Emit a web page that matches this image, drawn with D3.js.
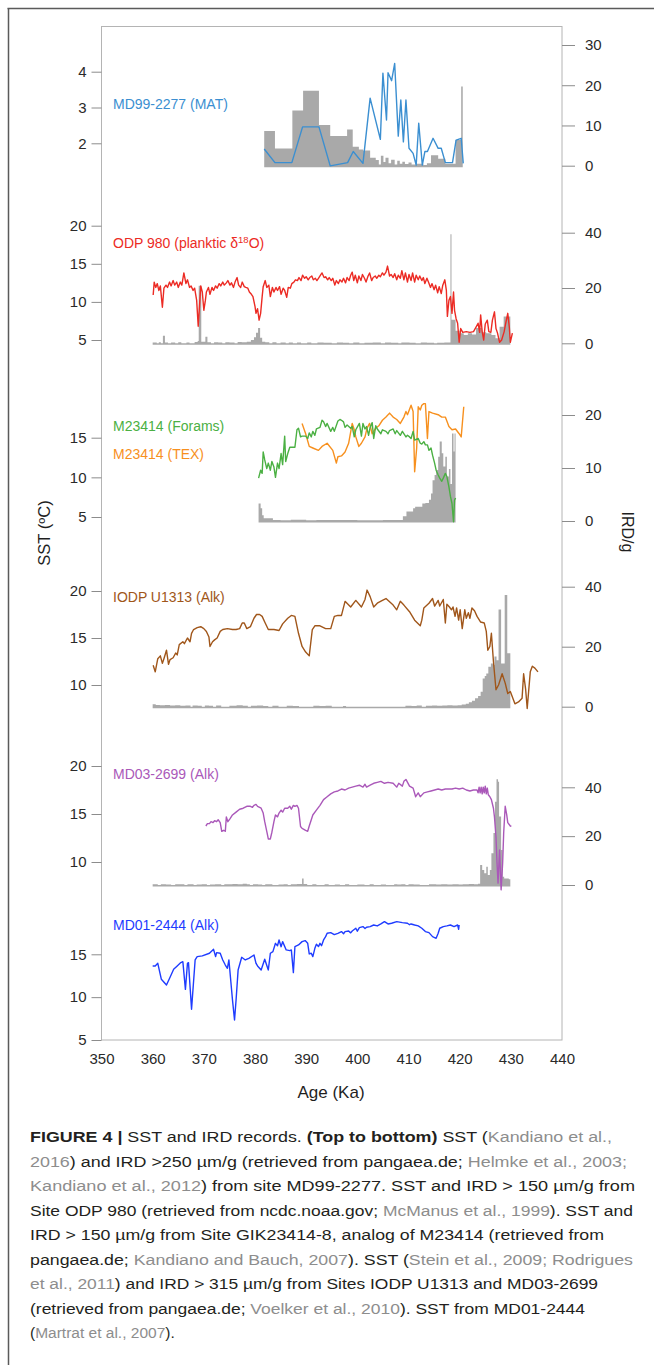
<!DOCTYPE html>
<html><head><meta charset="utf-8">
<script src="https://cdn.jsdelivr.net/npm/d3@7"></script>
<style>
body{margin:0;background:#fff}
svg{display:block}
text{font-family:"Liberation Sans",Arial,Helvetica,sans-serif}
</style>
</head><body>
<svg id="c" width="654" height="1365"></svg>
<script>
// ---------------- DATA ----------------
const xTicks = [350,360,370,380,390,400,410,420,430,440];

// MD99-2277 (MAT) SST and IRD >250
const md99Sst = [[381.8,1.84],[383.9,1.46],[387.2,1.46],[389.3,2.46],[392.5,2.46],[394.7,1.37],[398.1,1.46],[399.2,1.77],[401.1,1.44],[402.5,3.26],[404.5,2.11],[405.0,3.96],[405.7,2.65],[406.0,3.97],[406.7,3.75],[407.3,4.23],[408.0,2.20],[408.5,3.21],[409.0,2.04],[409.5,3.21],[410.1,1.86],[410.9,1.72],[411.5,1.39],[412.0,2.56],[412.7,1.39],[413.2,1.77],[413.7,1.77],[414.8,2.14],[415.8,1.86],[416.4,1.86],[417.2,1.46],[418.6,1.46],[419.3,2.09],[420.3,2.14],[420.7,1.44]];
const md99Ird = [[381.8,8.6],[383.9,4.3],[387.3,13.7],[389.4,18.6],[392.5,10.1],[394.7,7.4],[398.0,9.0],[399.1,4.7],[400.3,4.0],[401.1,3.8],[402.5,2.0],[403.6,1.4],[404.2,0.3],[404.6,2.5],[405.1,0.9],[405.5,2.0],[406.1,0.6],[406.6,1.5],[407.3,0.3],[407.8,1.2],[408.3,0.5],[408.8,1.0],[409.3,0.4],[410.0,0.8],[410.6,0.3],[411.6,0.5],[412.9,0.2],[413.6,0.6],[414.4,2.6],[415.8,1.7],[417.2,0.5],[419.2,6.4],[420.3,19.7],[420.6,0]];

// ODP 980 SST and IRD >150
const odp980Sst = [[360.1,10.9],[360.3,12.6],[360.6,11.9],[360.9,12.4],[361.2,11.5],[361.5,12.1],[361.9,9.3],[362.2,11.8],[362.6,12.2],[362.9,11.9],[363.3,12.6],[363.6,12.1],[364.0,12.8],[364.3,12.2],[364.7,12.6],[365.0,11.9],[365.4,12.6],[365.7,12.2],[366.1,13.8],[366.5,12.4],[366.8,12.9],[367.2,11.9],[367.5,12.1],[367.9,11.5],[368.2,11.8],[368.6,10.2],[368.9,6.8],[369.1,8.9],[369.4,12.1],[369.7,11.3],[370.0,8.9],[370.3,10.2],[370.5,11.3],[370.9,11.9],[371.2,11.0],[371.6,11.9],[371.9,11.5],[372.3,12.1],[372.6,11.8],[373.0,12.4],[373.3,12.1],[373.7,12.6],[374.0,12.2],[374.4,12.5],[374.7,12.8],[375.1,12.2],[375.4,12.5],[375.8,11.9],[376.1,12.6],[376.5,13.2],[376.8,12.2],[377.2,11.9],[377.5,12.6],[377.9,12.0],[378.2,11.9],[378.6,11.8],[378.9,11.3],[379.3,11.0],[379.6,10.7],[380.0,9.4],[380.2,8.5],[380.5,9.1],[380.8,7.6],[381.1,8.5],[381.4,10.7],[381.6,12.0],[382.0,12.8],[382.3,11.9],[382.7,12.2],[383.0,10.7],[383.4,11.9],[383.7,11.3],[384.1,11.9],[384.4,11.5],[384.8,12.0],[385.1,11.0],[385.5,11.8],[385.8,11.5],[386.2,10.6],[386.5,11.9],[386.9,11.8],[387.2,12.4],[387.6,12.6],[387.9,12.9],[388.3,12.8],[388.6,13.2],[389.0,12.8],[389.3,13.5],[389.7,13.1],[390.0,13.3],[390.4,12.9],[390.7,13.2],[391.1,13.4],[391.4,12.9],[391.8,13.1],[392.1,12.8],[392.4,13.1],[392.8,13.5],[393.1,13.8],[393.5,13.2],[393.8,13.3],[394.2,12.9],[394.5,13.2],[394.9,12.8],[395.2,13.1],[395.6,12.2],[395.9,12.8],[396.3,12.4],[396.6,12.9],[397.0,12.6],[397.3,13.1],[397.7,12.5],[398.0,13.2],[398.4,12.8],[398.7,13.5],[399.0,13.9],[399.3,12.8],[399.6,13.5],[400.0,12.5],[400.3,13.4],[400.7,12.8],[401.0,13.6],[401.4,13.1],[401.7,12.6],[402.1,13.4],[402.4,13.8],[402.8,12.8],[403.1,13.2],[403.5,13.4],[403.8,13.1],[404.2,13.5],[404.5,13.3],[404.9,13.8],[405.2,13.5],[405.6,13.9],[405.9,14.7],[406.3,13.4],[406.6,13.6],[407.0,13.2],[407.3,13.7],[407.7,12.9],[408.0,13.5],[408.4,13.1],[408.7,14.1],[409.1,12.9],[409.4,13.8],[409.8,12.6],[410.1,13.6],[410.5,12.8],[410.8,13.8],[411.2,12.6],[411.5,13.5],[411.9,12.9],[412.2,13.4],[412.6,12.8],[412.9,13.2],[413.2,12.4],[413.6,13.1],[413.9,12.6],[414.3,11.9],[414.6,12.4],[415.0,11.6],[415.3,12.2],[415.7,11.2],[416.0,12.0],[416.4,11.1],[416.7,12.2],[417.1,12.9],[417.4,11.5],[417.6,8.1],[417.9,10.2],[418.2,10.7],[418.5,8.5],[418.8,11.3],[419.0,8.9],[419.3,7.8],[419.6,7.2],[419.9,4.7],[420.2,6.5],[420.6,6.0],[421.3,6.1],[422.0,6.0],[422.7,6.1],[423.2,6.7],[423.6,7.2],[423.9,6.0],[424.1,8.3],[424.4,6.1],[424.7,5.0],[425.0,7.1],[425.4,7.6],[425.7,6.1],[426.1,6.0],[426.4,7.6],[426.8,8.7],[427.1,6.5],[427.4,5.9],[427.8,4.7],[428.2,5.0],[428.7,6.1],[429.0,7.2],[429.4,8.5],[429.7,6.7],[429.9,4.7],[430.3,5.9]];
const odp980Ird = [[360.0,0.3],[360.8,0],[361.2,0.4],[361.6,0],[362.0,2.7],[362.4,0.3],[363.0,0],[363.6,0.3],[364.4,0],[365.0,0.4],[365.6,0],[366.6,0.3],[367.2,0],[368.2,0.5],[368.8,0.8],[369.0,20.8],[369.5,0.6],[370.3,2.4],[370.7,0.4],[371.4,0],[372.0,0.4],[372.8,0.3],[373.6,0],[374.2,0.4],[375.0,0.3],[376.0,0],[376.6,0.5],[377.4,0.4],[378.4,0.6],[379.2,1.2],[379.8,2.2],[380.2,3.8],[380.6,5.5],[381.0,2.0],[381.4,0.6],[382.0,0.4],[382.8,0],[383.4,0.4],[384.2,0],[385.0,0.3],[386.0,0],[386.6,0.3],[387.4,0],[388.2,0.3],[389.0,0],[390.2,0.3],[391.0,0],[392.2,0.3],[393.4,0.2],[395.0,0],[396.0,0.3],[397.2,0.2],[398.4,0],[399.2,0.3],[400.4,0],[401.4,0.2],[403.0,0.3],[404.6,0],[405.4,0.3],[406.6,0.2],[408.0,0],[408.6,0.3],[410.2,0.2],[411.4,0],[412.4,0.3],[413.6,0.2],[415.0,0],[415.6,0.2],[417.0,0.3],[418.2,39.4],[418.4,8.5],[419.2,4.5],[420.0,3.6],[420.8,3.0],[421.6,3.6],[422.4,3.2],[423.2,5.5],[424.4,4.0],[425.2,3.6],[426.2,3.0],[427.0,1.8],[427.8,6.0],[428.6,9.7],[429.9,0]];

// M23414 (Forams, TEX) SST and IRD >150
const m23414Forams = [[380.7,9.9],[381.1,10.9],[381.4,10.5],[381.6,13.2],[381.9,12.2],[382.3,11.1],[382.6,11.8],[383.0,10.9],[383.3,12.0],[383.7,11.3],[384.0,10.0],[384.4,11.8],[384.7,11.1],[385.1,13.0],[385.4,11.6],[385.8,15.2],[386.0,12.0],[386.4,13.0],[386.8,13.8],[387.5,13.8],[387.8,13.8],[388.2,16.0],[388.5,16.2],[388.9,15.1],[389.2,15.2],[389.9,15.2],[390.3,14.9],[390.6,15.6],[391.0,15.1],[391.3,15.8],[391.7,15.3],[392.0,16.1],[392.7,16.3],[393.1,17.2],[393.4,17.0],[393.8,16.4],[394.1,16.8],[394.8,15.8],[395.2,16.3],[395.5,15.8],[396.2,17.1],[396.6,17.3],[396.9,17.2],[397.3,17.0],[397.6,16.3],[398.0,16.6],[398.7,16.2],[399.0,16.4],[399.4,15.1],[399.7,16.0],[400.4,16.8],[400.8,15.2],[401.1,16.8],[401.5,16.1],[401.8,16.4],[402.2,15.3],[402.5,16.3],[402.9,16.9],[403.2,14.9],[403.6,16.5],[403.9,16.1],[404.6,15.5],[404.9,16.0],[405.6,15.8],[406.0,15.5],[406.3,15.9],[407.0,16.1],[407.4,15.5],[407.7,15.9],[408.4,15.3],[408.8,15.8],[409.5,15.1],[409.8,15.3],[410.2,15.1],[410.5,14.9],[410.9,15.8],[411.2,14.7],[411.9,14.9],[412.3,14.3],[412.6,14.2],[413.0,14.5],[413.3,14.1],[413.7,14.1],[414.0,13.4],[414.4,13.7],[414.7,12.8],[415.1,11.8],[415.4,10.9],[415.8,10.3],[416.1,9.9],[416.5,9.5],[416.8,9.9],[417.2,10.5],[417.5,10.1],[417.9,8.8],[418.2,7.6],[418.5,6.7],[418.8,4.4],[419.0,7.1],[419.2,7.4]];
const m23414Tex = [[389.2,16.8],[389.9,15.5],[390.6,13.9],[391.3,13.7],[392.4,13.4],[393.1,13.9],[394.1,14.3],[395.2,13.4],[395.9,11.8],[396.2,12.6],[396.9,12.7],[397.6,13.2],[398.3,14.3],[399.0,16.8],[399.4,16.0],[399.7,15.1],[400.3,13.9],[400.8,14.3],[401.5,15.1],[401.9,16.2],[402.4,16.8],[402.9,15.5],[403.6,16.2],[404.2,16.5],[404.9,17.2],[405.6,17.6],[406.3,18.1],[407.0,17.6],[407.7,17.3],[408.4,16.8],[409.1,17.6],[409.5,18.3],[409.8,17.9],[410.5,19.1],[410.9,18.3],[411.2,10.7],[411.6,13.7],[411.9,18.9],[412.3,18.5],[412.6,19.1],[413.0,19.3],[413.3,19.3],[413.7,14.9],[414.0,18.3],[414.7,18.1],[415.8,17.9],[416.5,17.6],[417.2,17.6],[417.9,16.4],[418.5,16.0],[419.2,16.1],[419.9,15.5],[420.3,15.1],[420.8,18.9]];
const m23414Ird = [[380.7,3.3],[381.1,2.4],[381.4,1.1],[381.7,0.5],[383.5,0.2],[385.0,0.15],[387.0,0.25],[390.0,0.15],[392.0,0.2],[395.0,0.2],[400.0,0.15],[405.0,0.2],[408.9,0.9],[409.6,1.8],[410.9,2.4],[411.3,2.7],[412.7,3.3],[413.3,3.4],[414.0,4.0],[414.4,5.2],[414.7,7.7],[415.1,8.7],[415.4,9.6],[415.8,12.1],[416.1,15.0],[416.5,12.8],[416.8,10.3],[417.2,12.1],[417.5,8.4],[417.9,9.8],[418.2,7.0],[418.5,16.5],[418.8,13.1],[419.0,16.5],[419.2,0]];

// IODP U1313 (Alk) SST and IRD >315
const u1313Sst = [[360.1,12.1],[360.5,11.4],[361.0,12.8],[361.5,13.1],[361.9,12.3],[362.2,12.8],[362.7,13.7],[363.1,12.2],[363.4,12.7],[364.0,12.9],[364.5,13.4],[364.8,13.2],[365.2,14.3],[365.9,14.6],[366.2,14.4],[366.8,15.0],[367.3,14.6],[367.6,15.5],[368.0,15.9],[368.7,16.1],[369.4,16.2],[370.0,16.0],[370.5,15.7],[371.0,15.1],[371.2,14.1],[371.7,14.6],[372.1,14.8],[372.6,15.0],[373.2,15.7],[373.7,15.9],[374.6,16.0],[375.6,15.9],[376.3,15.9],[377.0,16.0],[377.5,16.6],[377.9,16.6],[378.4,16.0],[379.1,16.2],[379.8,17.1],[380.3,17.5],[380.9,17.5],[381.4,17.3],[381.9,16.7],[382.6,15.9],[383.7,15.9],[384.7,15.8],[385.4,16.5],[386.4,17.1],[387.1,17.4],[387.8,17.3],[388.5,15.5],[389.2,14.1],[389.9,13.5],[390.6,13.1],[391.2,15.9],[391.7,16.3],[392.7,16.3],[393.8,16.0],[394.8,16.0],[395.5,17.3],[396.2,17.4],[396.9,17.4],[397.6,18.9],[398.7,18.3],[399.7,19.0],[400.8,18.3],[401.5,19.1],[401.9,20.1],[402.5,19.4],[403.2,18.3],[403.9,18.7],[404.9,19.0],[405.6,19.2],[407.0,18.5],[407.7,18.0],[408.4,18.9],[409.1,18.5],[410.2,17.8],[411.2,16.9],[412.3,16.3],[412.6,16.9],[413.0,18.2],[414.0,18.7],[414.7,19.2],[415.1,18.4],[415.8,19.0],[416.1,18.4],[416.8,19.1],[417.2,16.6],[417.5,18.6],[418.0,18.3],[418.4,18.0],[418.7,18.3],[419.1,17.3],[419.4,18.2],[419.8,16.9],[420.1,18.0],[420.5,16.0],[421.0,18.0],[421.3,17.1],[421.7,17.7],[422.0,17.1],[422.4,18.2],[422.9,17.9],[423.4,17.3],[424.1,16.7],[424.8,16.6],[425.2,15.7],[425.5,13.7],[425.9,14.1],[426.2,15.5],[426.6,12.5],[427.1,9.5],[427.6,10.0],[428.3,11.2],[428.9,10.2],[429.4,9.1],[429.9,9.3],[430.8,8.0],[431.5,8.2],[432.2,8.6],[432.5,11.2],[432.9,9.5],[433.2,7.5],[433.8,11.4],[434.2,12.0],[434.7,11.8],[435.3,11.4]];
const u1313Ird = [[360.0,0.8],[360.6,0.6],[361.4,0.5],[362.4,0.6],[363.4,0.4],[364.4,0.5],[365.4,0.3],[366.4,0.4],[367.4,0],[367.8,0.4],[368.8,0.3],[369.6,0],[370.2,0.4],[371.0,0.3],[371.8,0],[372.4,0.4],[373.4,0],[375.0,0.3],[376.4,0.5],[377.6,0.3],[378.6,0],[379.2,0.3],[380.4,0.4],[381.6,0.2],[382.6,0],[383.4,0.3],[384.6,0],[386.2,0.3],[387.4,0.2],[388.6,0],[391.4,0.3],[392.6,0.2],[393.8,0.3],[395.0,0],[397.2,0.2],[397.8,0],[409.4,0.3],[410.6,0.2],[411.6,0.4],[412.6,0],[413.4,0.3],[414.6,0.4],[415.6,0.3],[416.6,0.4],[417.6,0.5],[418.6,0.4],[419.6,0.5],[420.4,0.7],[421.2,1.0],[421.8,1.5],[422.4,2.0],[423.0,2.8],[423.6,3.6],[424.1,5.0],[424.5,9.4],[424.9,10.2],[425.2,11.1],[425.6,13.3],[426.1,14.4],[426.5,13.9],[426.8,16.7],[427.2,15.5],[427.6,32.4],[428.1,14.4],[428.8,37.2],[429.3,17.8],[429.9,0]];

// MD03-2699 (Alk) SST and IRD >315
const md03Sst = [[370.4,13.75],[370.7,14.0],[371.1,14.0],[371.4,14.2],[371.8,14.1],[372.1,14.3],[372.5,14.2],[372.8,14.4],[373.2,14.1],[373.5,13.2],[373.9,13.3],[374.2,13.2],[374.4,14.7],[374.7,14.2],[375.1,14.5],[375.6,14.9],[376.3,15.2],[377.0,15.5],[377.7,15.6],[378.4,15.8],[379.1,15.8],[379.5,15.7],[379.8,15.9],[380.2,16.0],[380.5,15.8],[381.2,15.6],[381.6,15.1],[381.9,14.2],[382.3,13.2],[382.6,12.4],[383.0,12.4],[383.3,13.1],[383.7,14.2],[384.0,14.9],[384.4,14.7],[384.7,15.1],[385.1,15.4],[385.4,15.2],[385.8,15.6],[386.4,15.6],[386.8,15.8],[387.1,15.5],[387.5,15.9],[387.8,15.8],[388.2,15.9],[388.5,15.6],[388.9,13.7],[389.2,13.5],[389.9,13.3],[390.3,13.2],[390.6,13.75],[391.0,14.4],[391.3,14.9],[392.0,15.4],[392.7,15.9],[393.4,16.5],[394.1,16.8],[394.8,17.1],[395.5,17.3],[396.2,17.4],[396.9,17.6],[397.6,17.5],[398.3,17.7],[399.0,17.8],[399.7,17.9],[400.4,18.0],[401.1,17.8],[401.5,18.1],[401.8,17.8],[402.5,18.0],[403.2,18.2],[403.9,18.3],[404.6,18.4],[405.3,18.2],[406.0,18.3],[407.0,18.2],[407.7,17.8],[408.1,18.2],[408.8,17.9],[409.1,18.4],[409.5,18.6],[410.2,17.9],[410.9,17.7],[411.4,16.8],[411.9,17.2],[412.3,16.8],[413.0,17.2],[413.7,17.3],[414.4,17.4],[415.1,17.5],[415.8,17.6],[416.5,17.5],[417.2,17.6],[417.9,17.6],[418.5,17.6],[419.2,17.7],[419.9,17.6],[420.6,17.7],[421.3,17.5],[422.0,17.4],[422.7,17.5],[423.4,17.5],[423.6,17.2],[423.8,17.8],[424.0,17.2],[424.2,17.8],[424.4,17.1],[424.6,17.8],[424.8,17.2],[425.0,17.9],[425.2,17.1],[425.4,17.7],[425.6,17.0],[425.9,16.8],[426.2,16.5],[426.6,15.6],[426.8,14.7],[427.1,12.6],[427.3,9.9],[427.5,7.8],[427.8,11.25],[428.1,7.1],[428.4,9.9],[428.6,13.0],[428.9,15.8],[429.2,14.9],[429.4,14.1],[429.9,13.75],[430.1,13.7]];
const md03Ird = [[360.0,0.3],[361.0,0],[361.6,0.3],[362.6,0.2],[363.6,0],[364.4,0.3],[365.4,0.3],[366.2,0],[366.8,0.3],[368.0,0],[368.6,0.2],[369.6,0.3],[370.6,0],[371.2,0.2],[372.2,0.3],[373.4,0],[374.0,0.3],[375.6,0.4],[376.6,0.3],[377.6,0.5],[378.4,0.3],[379.0,0],[379.6,0.3],[380.6,0.2],[381.4,0],[382.0,0.3],[383.4,0],[384.6,0.2],[385.6,0.3],[386.4,0],[387.0,0.3],[388.2,0.4],[389.2,2.7],[389.5,0.4],[390.2,0],[391.2,0.3],[392.0,0],[393.6,0.3],[394.4,0],[395.6,0.2],[396.6,0],[397.6,0.3],[398.4,0],[400.0,0.2],[401.4,0],[402.4,0.3],[403.2,0],[404.6,0.2],[405.6,0],[407.2,0.3],[407.8,0.2],[408.6,0.3],[409.4,0],[410.0,0.3],[411.0,0.2],[412.2,0],[414.0,0.3],[415.4,0.2],[416.4,0.3],[417.6,0.2],[418.6,0.3],[419.8,0.2],[420.6,0.3],[421.8,0.4],[422.8,0.3],[423.6,0.5],[424.0,8.2],[424.4,6.1],[424.8,4.8],[425.2,7.5],[425.5,4.1],[425.9,6.1],[426.2,13.0],[426.6,21.3],[426.9,34.1],[427.2,43.3],[427.5,42.3],[427.7,28.0],[428.1,14.3],[428.4,3.4],[428.7,2.7],[429.6,2.4],[429.9,0]];

// MD01-2444 (Alk) SST
const md01Sst = [[360.0,13.64],[360.5,13.64],[361.0,13.95],[361.7,12.08],[362.0,11.89],[362.7,11.42],[363.4,12.32],[364.1,13.25],[364.8,13.64],[365.5,14.03],[365.9,14.14],[366.4,10.91],[366.8,13.95],[367.0,14.03],[367.6,8.58],[368.3,14.34],[368.7,14.73],[369.7,14.81],[371.1,15.12],[371.9,15.58],[372.3,14.73],[372.5,15.19],[373.2,15.12],[373.7,14.34],[374.2,13.75],[374.6,13.37],[374.9,14.34],[375.6,9.67],[376.0,7.33],[376.3,9.67],[376.7,13.17],[377.4,14.65],[378.1,14.34],[378.8,14.53],[379.8,14.92],[380.2,13.95],[380.5,13.64],[381.2,13.17],[381.9,14.42],[382.6,13.17],[383.0,15.12],[383.5,15.31],[384.0,16.28],[384.4,16.0],[384.7,16.67],[385.1,15.89],[385.4,16.48],[386.1,15.51],[386.8,15.43],[387.1,15.51],[387.5,12.86],[387.8,15.89],[388.5,16.09],[389.2,16.48],[389.8,16.60],[390.3,16.28],[390.6,15.04],[391.0,15.12],[391.3,14.73],[391.7,15.70],[392.0,16.17],[392.4,15.9],[392.7,16.28],[393.0,16.0],[393.4,16.67],[393.8,17.06],[394.1,17.45],[394.8,17.53],[395.5,17.3],[396.2,17.45],[396.9,17.65],[397.3,17.4],[397.6,17.65],[398.3,17.72],[398.7,17.5],[399.0,17.72],[399.7,18.04],[400.0,17.7],[400.4,18.11],[401.1,18.23],[401.5,18.0],[401.8,18.16],[402.5,18.23],[403.2,18.42],[403.9,18.31],[404.6,18.54],[405.3,18.81],[406.0,18.54],[406.7,18.62],[407.7,18.81],[408.8,18.70],[409.8,18.62],[410.2,18.45],[410.5,18.54],[411.2,18.42],[411.9,18.31],[412.6,18.04],[413.3,17.65],[414.0,17.53],[414.7,17.06],[415.4,16.87],[415.8,17.45],[416.1,18.04],[416.8,18.23],[417.5,18.31],[418.2,18.42],[418.9,18.23],[419.6,18.42],[419.8,17.92],[419.9,18.42]];

// series labels & caption
const seriesNames = ["MD99-2277 (MAT)","ODP 980 (planktic δ","M23414 (Forams)","M23414 (TEX)","IODP U1313 (Alk)","MD03-2699 (Alk)","MD01-2444 (Alk)"];
const captionLines = [
 [["FIGURE 4 | ","b"],["SST and IRD records. ","n"],["(Top to bottom)","b"],[" SST (","n"],["Kandiano et al.,","g"]],
 [["2016","g"],[") and IRD >250 µm/g (retrieved from pangaea.de; ","n"],["Helmke et al., 2003;","g"]],
 [["Kandiano et al., 2012","g"],[") from site MD99-2277. SST and IRD > 150 µm/g from","n"]],
 [["Site ODP 980 (retrieved from ncdc.noaa.gov; ","n"],["McManus et al., 1999","g"],["). SST and","n"]],
 [["IRD > 150 µm/g from Site GIK23414-8, analog of M23414 (retrieved from","n"]],
 [["pangaea.de; ","n"],["Kandiano and Bauch, 2007","g"],["). SST (","n"],["Stein et al., 2009; Rodrigues","g"]],
 [["et al., 2011","g"],[") and IRD > 315 µm/g from Sites IODP U1313 and MD03-2699","n"]],
 [["(retrieved from pangaea.de; ","n"],["Voelker et al., 2010","g"],["). SST from MD01-2444","n"]],
 [["(","n"],["Martrat et al., 2007","g"],[").","n"]]
];

// ---------------- LAYOUT ----------------
const svg = d3.select("#c");
const X0 = 101.5, X1 = 562;
const x = d3.scaleLinear().domain([350,440]).range([X0,X1]);

const panels = [
 {lines:[{data:md99Sst,color:"#3b8fd1",name:0,ly:104}], ird:md99Ird, lt:[2,3,4], rt:[0,10,20,30], L:[2,4,143.3,71.7], R:[0,30,165.7,45]},
 {lines:[{data:odp980Sst,color:"#ec2b24",name:1,ly:243,sup:true}], ird:odp980Ird, lt:[5,10,15,20], rt:[0,20,40], L:[5,20,340,225.7], R:[0,40,343.3,232.7]},
 {lines:[{data:m23414Tex,color:"#f7901e",name:3,ly:454},{data:m23414Forams,color:"#4bb043",name:2,ly:426}], ird:m23414Ird, lt:[5,10,15], rt:[0,10,20], L:[5,15,517,437.7], R:[0,20,521,415]},
 {lines:[{data:u1313Sst,color:"#a0561a",name:4,ly:597}], ird:u1313Ird, lt:[10,15,20], rt:[0,20,40], L:[10,20,685,591], R:[0,40,706.7,586.7]},
 {lines:[{data:md03Sst,color:"#aa58b9",name:5,ly:774}], ird:md03Ird, lt:[10,15,20], rt:[0,20,40], L:[10,20,862,766], R:[0,40,885,787.3]},
 {lines:[{data:md01Sst,color:"#1f3cff",name:6,ly:925}], ird:null, lt:[5,10,15], rt:null, L:[5,15,1040,954.3], R:null}
];

// outer figure border
svg.append("line").attr("x1",7.5).attr("y1",8.5).attr("x2",654).attr("y2",8.5).attr("stroke","#5a5a5a").attr("stroke-width",1.5);
svg.append("line").attr("x1",8.5).attr("y1",8).attr("x2",8.5).attr("y2",1365).attr("stroke","#5a5a5a").attr("stroke-width",1.5);

// plot frame
svg.append("rect").attr("x",X0).attr("y",26.5).attr("width",X1-X0).attr("height",1040-26.5)
  .attr("fill","none").attr("stroke","#b4b4b4").attr("stroke-width",1);

function styleAxis(g){
  g.select(".domain").remove();
  g.selectAll(".tick line").attr("stroke","#8c8c8c");
  g.selectAll(".tick text").attr("fill","#2a2a2a");
  g.attr("font-size",15).attr("font-family","'Liberation Sans',Arial,sans-serif");
}

panels.forEach(p=>{
  const yL = d3.scaleLinear().domain([p.L[0],p.L[1]]).range([p.L[2],p.L[3]]);
  if(p.ird){
    const yR = d3.scaleLinear().domain([p.R[0],p.R[1]]).range([p.R[2],p.R[3]]);
    const area = d3.area().x(d=>x(d[0])).y0(yR(0)+1.5).y1(d=>yR(d[1])).curve(d3.curveStepAfter);
    svg.append("path").datum(p.ird).attr("d",area).attr("fill","#a9a9a9").attr("stroke","none");
    svg.append("g").attr("transform",`translate(${X1},0)`)
      .call(d3.axisRight(yR).tickValues(p.rt).tickSize(13).tickPadding(10).tickFormat(d3.format("d")))
      .call(styleAxis);
  }
  const line = d3.line().x(d=>x(d[0])).y(d=>yL(d[1]));
  p.lines.forEach(s=>{
    svg.append("path").datum(s.data).attr("d",line).attr("fill","none")
      .attr("stroke",s.color).attr("stroke-width",1.4).attr("stroke-linejoin","round");
    const t = svg.append("text").attr("x",113).attr("y",s.ly+5).attr("font-size",14).attr("fill",s.color);
    t.append("tspan").text(seriesNames[s.name]);
    if(s.sup){
      t.append("tspan").attr("dy",-5).attr("font-size",9.5).text("18");
      t.append("tspan").attr("dy",5).text("O)");
    }
  });
  svg.append("g").attr("transform",`translate(${X0},0)`)
    .call(d3.axisLeft(yL).tickValues(p.lt).tickSize(10).tickPadding(5).tickFormat(d3.format("d")))
    .call(styleAxis);
});

// x axis
svg.append("g").attr("transform","translate(0,1040)")
  .call(d3.axisBottom(x).tickValues(xTicks).tickSize(0).tickPadding(13).tickFormat(d3.format("d")))
  .call(styleAxis);

// axis titles
svg.append("text").attr("transform","translate(50,533) rotate(-90)").attr("text-anchor","middle")
  .attr("font-size",16.5).attr("fill","#1f1f1f").text("SST (ºC)");
svg.append("text").attr("transform","translate(622,532) rotate(90)").attr("text-anchor","middle")
  .attr("font-size",16).attr("fill","#1f1f1f").text("IRD/g");
svg.append("text").attr("x",331).attr("y",1098).attr("text-anchor","middle")
  .attr("font-size",17).attr("fill","#1f1f1f").text("Age (Ka)");

// caption
const capWidths = [582,597,605,603,574,603,568,555,null];
captionLines.forEach((segs,i)=>{
  const t = svg.append("text").attr("x",30).attr("y",1142+i*24.5).attr("font-size",15.5);
  if(capWidths[i]) t.attr("textLength",capWidths[i]).attr("lengthAdjust","spacingAndGlyphs");
  segs.forEach(s=>{
    t.append("tspan").text(s[0])
      .attr("fill", s[1]==="g" ? "#8d8d8d" : "#231f20")
      .attr("font-weight", s[1]==="b" ? "bold" : "normal");
  });
});
</script>
</body></html>
